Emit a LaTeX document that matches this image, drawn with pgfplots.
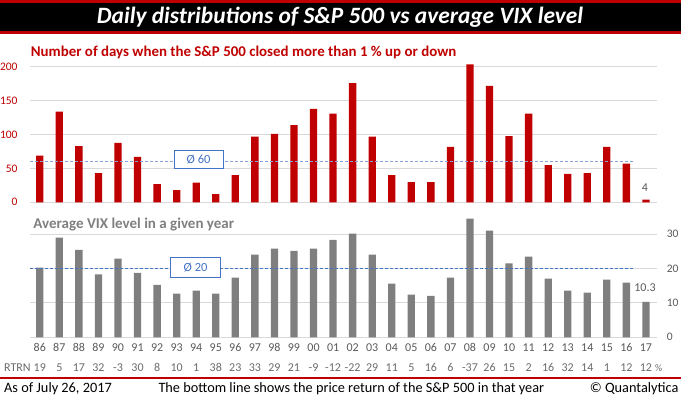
\documentclass[border=0pt]{standalone}
\usepackage{pgfplots}
\pgfplotsset{compat=1.18}
\usepackage{pgfplotstable}
\usepackage{fontspec}
\setmainfont{Carlito}
\definecolor{barred}{HTML}{C00000}
\definecolor{bargray}{HTML}{7F7F7F}
\definecolor{avgblue}{HTML}{4472C4}
\definecolor{gridgray}{HTML}{D9D9D9}
\definecolor{txtgray}{HTML}{595959}
\definecolor{rtrngray}{HTML}{6B6B6B}

\pgfplotstableread{
i dist vix
0 69 20.3
1 134 29.0
2 83 25.5
3 43 18.3
4 88 22.9
5 67 18.8
6 27 15.3
7 18 12.7
8 29 13.6
9 12 12.7
10 40 17.4
11 97 24.1
12 101 25.8
13 114 25.2
14 138 25.8
15 131 28.4
16 176 30.2
17 97 24.1
18 40 15.6
19 30 12.4
20 30 12.1
21 82 17.4
22 204 34.6
23 172 31.1
24 98 21.5
25 131 23.5
26 55 17.1
27 42 13.6
28 43 13.0
29 82 16.8
30 57 15.9
31 4 10.3
}\data

\begin{document}
\begin{tikzpicture}
\useasboundingbox (0pt,0pt) rectangle (681pt,399pt);
% title band
\fill[barred] (0pt,399pt) rectangle (681pt,365.3pt);
\fill[black] (0pt,396.3pt) rectangle (681pt,368.3pt);
\node[white, anchor=base, inner sep=0, font=\fontsize{23.4}{23.4}\selectfont\bfseries\itshape] at (340pt,375pt) {Daily distributions of S\&P 500 vs average VIX level};

% top chart
\begin{axis}[at={(30pt,196.7pt)}, anchor=south west, scale only axis,
  width=626.7pt, height=135.3pt,
  xmin=-0.5, xmax=31.55, ymin=0, ymax=200,
  ytick={0,50,100,150,200}, xtick=\empty,
  ymajorgrids, grid style={gridgray, line width=1pt},
  axis line style={draw=none}, major tick length=0,
  clip=false,
  /pgf/number format/assume math mode=true,
  yticklabel style={anchor=east, inner sep=0, xshift=-12.3pt, text=barred, font=\fontsize{11.5}{11.5}\selectfont},
]
\addplot[ybar, bar width=7.3pt, fill=barred, draw=none] table[x=i,y=dist]{\data};
\addplot[avgblue!65, dash pattern=on 3pt off 2pt, line width=1.3pt] coordinates {(-0.5,60) (30.35,60)};
\node[draw=avgblue, fill=white, text=avgblue, line width=1pt, minimum width=49pt, minimum height=17.6pt, inner sep=0, font=\fontsize{12.5}{12.5}\selectfont] at (axis cs:8.12,63.3) {Ø 60};
\node[text=txtgray, inner sep=0, font=\fontsize{12}{12}\selectfont] at (axis cs:30.95,21.4) {4};
\end{axis}
\node[anchor=base west, inner sep=0, text=barred, font=\fontsize{14.9}{14.9}\selectfont\bfseries] at (30.7pt,342.3pt) {Number of days when the S\&P 500 closed more than 1 \% up or down};

% bottom chart
\begin{axis}[at={(30pt,61.7pt)}, anchor=south west, scale only axis,
  width=626.7pt, height=103pt,
  xmin=-0.5, xmax=31.55, ymin=0, ymax=30,
  ytick={0,10,20,30}, yticklabel pos=right,
  xtick={0,...,31},
  xticklabels={86,87,88,89,90,91,92,93,94,95,96,97,98,99,00,01,02,03,04,05,06,07,08,09,10,11,12,13,14,15,16,17},
  extra x ticks={0,...,31},
  extra x tick labels={19,5,17,32,-3,30,8,10,1,38,23,33,29,21,-9,-12,-22,29,11,5,16,6,-37,26,15,2,16,32,14,1,12,12},
  extra x tick style={xticklabel style={yshift=-19.7pt, text=rtrngray}},
  ymajorgrids, grid style={gridgray, line width=1pt},
  axis line style={draw=none}, major tick length=0,
  clip=false,
  /pgf/number format/assume math mode=true,
  yticklabel style={anchor=west, inner sep=0, xshift=10pt, text=txtgray, font=\fontsize{11.5}{11.5}\selectfont},
  xticklabel style={anchor=base, inner sep=0, yshift=-14.7pt, text=txtgray, font=\fontsize{12}{12}\selectfont},
]
\addplot[ybar, bar width=7.3pt, fill=bargray, draw=none] table[x=i,y=vix]{\data};
\addplot[avgblue, dash pattern=on 3pt off 2pt, line width=1.1pt] coordinates {(-0.5,20) (30.35,20)};
\node[draw=avgblue, fill=white, text=avgblue, line width=1pt, minimum width=50.3pt, minimum height=20pt, inner sep=0, font=\fontsize{12.5}{12.5}\selectfont] at (axis cs:7.97,20.27) {Ø 20};
\node[text=txtgray, inner sep=0, font=\fontsize{12}{12}\selectfont] at (axis cs:30.95,14.36) {10.3};
\end{axis}
\node[anchor=base west, inner sep=0, text=bargray, font=\fontsize{15}{15}\selectfont\bfseries] at (33.3pt,170pt) {Average VIX level in a given year};

% RTRN row
\node[anchor=base west, inner sep=0, text=rtrngray, font=\fontsize{12}{12}\selectfont] at (4pt,27.3pt) {RTRN};
\node[anchor=base west, inner sep=0, text=rtrngray, font=\fontsize{10}{10}\selectfont] at (655pt,27.3pt) {\%};

% footer
\fill[barred] (0pt,19.7pt) rectangle (681pt,21.7pt);
\node[anchor=base west, inner sep=0, font=\fontsize{14.3}{14.3}\selectfont] at (4pt,6.7pt) {As of July 26, 2017};
\node[anchor=base west, inner sep=0, font=\fontsize{14.3}{14.3}\selectfont] at (158.3pt,6.7pt) {The bottom line shows the price return of the S\&P 500 in that year};
\node[anchor=base east, inner sep=0, font=\fontsize{14.3}{14.3}\selectfont] at (678.7pt,6.7pt) {© Quantalytica};
\end{tikzpicture}
\end{document}
